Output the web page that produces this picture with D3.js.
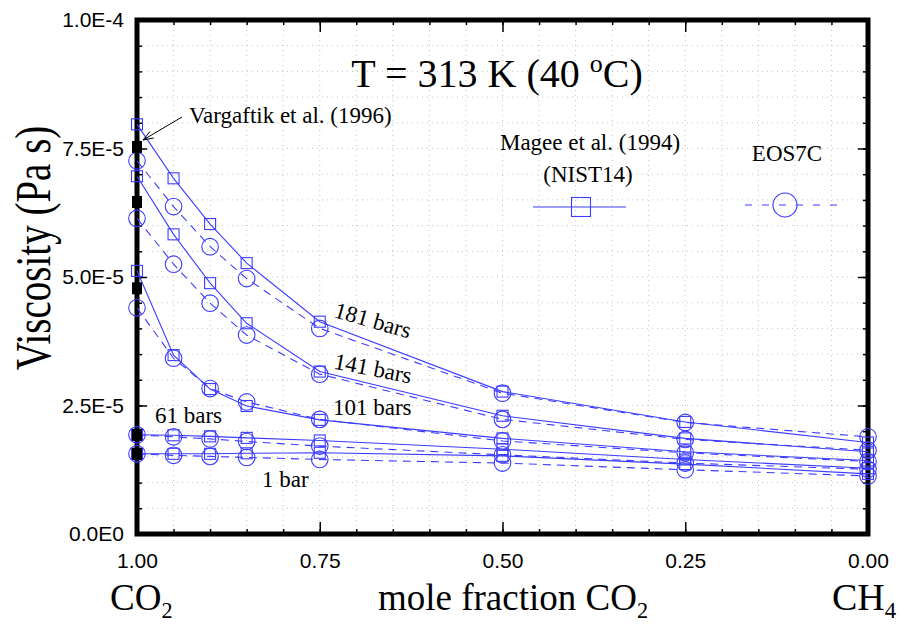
<!DOCTYPE html>
<html>
<head>
<meta charset="utf-8">
<script src="https://cdn.jsdelivr.net/npm/d3@7"></script>
<style>
  html, body { margin: 0; padding: 0; background: #fff; }
  svg { display: block; }
</style>
</head>
<body>
<svg id="chart" width="901" height="624"></svg>
<script>
// ---- data (viscosity in units of 1e-5 Pa s) ----
const moleFractionCO2 = [1.00, 0.95, 0.90, 0.85, 0.75, 0.50, 0.25, 0.00];
const pressures = ["181", "141", "101", "61", "1"];

// Magee et al. (1994) NIST14 (squares, solid lines)
const nist181 = [7.97, 6.92, 6.03, 5.27, 4.13, 2.77, 2.18, 1.78];
const nist141 = [6.96, 5.83, 4.88, 4.10, 3.16, 2.30, 1.86, 1.60];
const nist101 = [5.12, 3.48, 2.82, 2.49, 2.22, 1.86, 1.60, 1.43];
const nist61  = [1.93, 1.92, 1.90, 1.87, 1.82, 1.65, 1.45, 1.28];
const nist1   = [1.56, 1.56, 1.56, 1.57, 1.58, 1.52, 1.36, 1.17];

// EOS7C (circles, dashed lines)
const eos181 = [7.26, 6.37, 5.59, 4.97, 4.00, 2.74, 2.17, 1.89];
const eos141 = [6.14, 5.25, 4.49, 3.87, 3.11, 2.23, 1.84, 1.63];
const eos101 = [4.40, 3.42, 2.83, 2.57, 2.23, 1.81, 1.58, 1.41];
const eos61  = [1.93, 1.89, 1.85, 1.80, 1.71, 1.54, 1.38, 1.26];
const eos1   = [1.56, 1.53, 1.51, 1.49, 1.45, 1.38, 1.25, 1.13];

// Vargaftik et al. (1996), pure CO2
const vargaftikX = [1.00, 1.00, 1.00, 1.00, 1.00];
const vargaftikY = [7.53, 6.46, 4.78, 1.93, 1.56];

const yTickValues = [0, 2.5, 5, 7.5, 10];
const yTickLabels = ["0.0E0", "2.5E-5", "5.0E-5", "7.5E-5", "1.0E-4"];
const xTickValues = [1.00, 0.75, 0.50, 0.25, 0.00];
const xTickLabels = ["1.00", "0.75", "0.50", "0.25", "0.00"];

const nistSeries = [nist181, nist141, nist101, nist61, nist1];
const eosSeries  = [eos181, eos141, eos101, eos61, eos1];

// ---- layout ----
const L = 137, R = 868, T = 20, B = 534;
const BLUE = "#3c3cff";
const SERIF = "'Liberation Serif', 'Times New Roman', serif";
const SANS = "'Liberation Sans', Arial, sans-serif";

const svg = d3.select("#chart");
const x = d3.scaleLinear().domain([1, 0]).range([L, R]);
const y = d3.scaleLinear().domain([0, 10]).range([B, T]);

// grid (dotted)
const gridX = d3.range(0, 1.0001, 0.05);
const gridY = d3.range(0, 10.0001, 0.5);
const grid = svg.append("g").attr("stroke", "#c4c4c4").attr("stroke-width", 1).attr("stroke-dasharray", "1,4");
grid.selectAll("line.gx").data(gridX).join("line")
  .attr("x1", d => x(d)).attr("x2", d => x(d)).attr("y1", T).attr("y2", B);
grid.selectAll("line.gy").data(gridY).join("line")
  .attr("y1", d => y(d)).attr("y2", d => y(d)).attr("x1", L).attr("x2", R);

// axes with inward ticks
function styleAxis(g) {
  g.select(".domain").remove();
  g.selectAll(".tick line").attr("stroke", "#000").attr("stroke-width", 1.5);
}
const minorY = d3.range(0, 10.0001, 0.5);
const minorX = d3.range(0, 1.0001, 0.05);

svg.append("g").attr("transform", `translate(${L},0)`)
  .call(d3.axisLeft(y).tickValues(minorY).tickSize(-5).tickFormat(""))
  .call(styleAxis);
svg.append("g").attr("transform", `translate(${R},0)`)
  .call(d3.axisRight(y).tickValues(minorY).tickSize(-5).tickFormat(""))
  .call(styleAxis);
svg.append("g").attr("transform", `translate(0,${B})`)
  .call(d3.axisBottom(x).tickValues(minorX).tickSize(-5).tickFormat(""))
  .call(styleAxis);
svg.append("g").attr("transform", `translate(0,${T})`)
  .call(d3.axisTop(x).tickValues(minorX).tickSize(-5).tickFormat(""))
  .call(styleAxis);

const yAxisG = svg.append("g").attr("transform", `translate(${L},0)`)
  .call(d3.axisLeft(y).tickValues(yTickValues).tickSize(-10).tickPadding(13)
        .tickFormat((d, i) => yTickLabels[i]))
  .call(styleAxis);
yAxisG.selectAll("text").attr("font-family", SANS).attr("font-size", 21).attr("fill", "#000");

svg.append("g").attr("transform", `translate(${R},0)`)
  .call(d3.axisRight(y).tickValues(yTickValues).tickSize(-10).tickFormat(""))
  .call(styleAxis);

const xAxisG = svg.append("g").attr("transform", `translate(0,${B})`)
  .call(d3.axisBottom(x).tickValues(xTickValues).tickSize(-12).tickPadding(19)
        .tickFormat((d, i) => xTickLabels[i]))
  .call(styleAxis);
xAxisG.selectAll("text").attr("font-family", SANS).attr("font-size", 21).attr("fill", "#000");

svg.append("g").attr("transform", `translate(0,${T})`)
  .call(d3.axisTop(x).tickValues(xTickValues).tickSize(-12).tickFormat(""))
  .call(styleAxis);

// frame
svg.append("rect").attr("x", L).attr("y", T).attr("width", R - L).attr("height", B - T)
  .attr("fill", "none").attr("stroke", "#000").attr("stroke-width", 5);

// ---- data lines ----
const line = d3.line().x(d => x(d[0])).y(d => y(d[1]));
const dataG = svg.append("g");

nistSeries.forEach(s => {
  const pts = moleFractionCO2.map((m, i) => [m, s[i]]);
  dataG.append("path").attr("d", line(pts)).attr("fill", "none")
    .attr("stroke", BLUE).attr("stroke-width", 1.1);
});
eosSeries.forEach(s => {
  const pts = moleFractionCO2.map((m, i) => [m, s[i]]);
  dataG.append("path").attr("d", line(pts)).attr("fill", "none")
    .attr("stroke", BLUE).attr("stroke-width", 1.1).attr("stroke-dasharray", "8,6");
});
nistSeries.forEach(s => {
  dataG.selectAll(null).data(moleFractionCO2.map((m, i) => [m, s[i]])).join("rect")
    .attr("x", d => x(d[0]) - 5.5).attr("y", d => y(d[1]) - 5.5)
    .attr("width", 11).attr("height", 11)
    .attr("fill", "none").attr("stroke", BLUE).attr("stroke-width", 1.1);
});
eosSeries.forEach(s => {
  dataG.selectAll(null).data(moleFractionCO2.map((m, i) => [m, s[i]])).join("circle")
    .attr("cx", d => x(d[0])).attr("cy", d => y(d[1])).attr("r", 8.3)
    .attr("fill", "none").attr("stroke", BLUE).attr("stroke-width", 1.1);
});

// Vargaftik filled squares
dataG.selectAll(null).data(vargaftikX.map((m, i) => [m, vargaftikY[i]])).join("rect")
  .attr("x", d => x(d[0]) - 5).attr("y", d => y(d[1]) - 6)
  .attr("width", 10).attr("height", 12).attr("fill", "#000");

// ---- annotations ----
function serifText(txt, px, py, size, anchor) {
  return svg.append("text").attr("x", px).attr("y", py)
    .attr("font-family", SERIF).attr("font-size", size)
    .attr("text-anchor", anchor || "start").attr("fill", "#000").text(txt);
}

// Title
const title = svg.append("text").attr("x", 497).attr("y", 87)
  .attr("font-family", SERIF).attr("font-size", 40).attr("text-anchor", "middle").attr("fill", "#000");
title.append("tspan").text("T = 313 K (40 ");
title.append("tspan").attr("font-size", 26).attr("dy", -15).text("o");
title.append("tspan").attr("dy", 15).text("C)");

// Vargaftik label and arrow
serifText("Vargaftik et al. (1996)", 189, 123, 23);
{
  const x0 = 182, y0 = 117, x1 = 143, y1 = 140;
  svg.append("line").attr("x1", x0).attr("y1", y0).attr("x2", x1).attr("y2", y1)
    .attr("stroke", "#000").attr("stroke-width", 1);
  const ang = Math.atan2(y0 - y1, x0 - x1);
  const hl = 11, ha = 0.35;
  const p1 = [x1 + hl * Math.cos(ang + ha), y1 + hl * Math.sin(ang + ha)];
  const p2 = [x1 + hl * Math.cos(ang - ha), y1 + hl * Math.sin(ang - ha)];
  svg.append("path").attr("d", `M${p1[0]},${p1[1]}L${x1},${y1}L${p2[0]},${p2[1]}`)
    .attr("fill", "none").attr("stroke", "#000").attr("stroke-width", 1);
}

// Legend
serifText("Magee et al. (1994)", 590, 150, 23, "middle");
serifText("(NIST14)", 588, 182, 23, "middle");
svg.append("line").attr("x1", 533).attr("x2", 626).attr("y1", 207).attr("y2", 207)
  .attr("stroke", BLUE).attr("stroke-width", 1.1);
svg.append("rect").attr("x", 581 - 9.5).attr("y", 207 - 9.5).attr("width", 19).attr("height", 19)
  .attr("fill", "none").attr("stroke", BLUE).attr("stroke-width", 1.1);

serifText("EOS7C", 787, 161, 23, "middle");
svg.append("line").attr("x1", 745).attr("x2", 837).attr("y1", 205).attr("y2", 205)
  .attr("stroke", BLUE).attr("stroke-width", 1.1).attr("stroke-dasharray", "7,10");
svg.append("circle").attr("cx", 785).attr("cy", 205).attr("r", 12)
  .attr("fill", "none").attr("stroke", BLUE).attr("stroke-width", 1.1);

// Pressure labels
svg.append("text").attr("transform", "translate(373,320) rotate(16)")
  .attr("font-family", SERIF).attr("font-size", 23).attr("text-anchor", "middle")
  .attr("dy", "0.35em").text(pressures[0] + " bars");
svg.append("text").attr("transform", "translate(373,368) rotate(11)")
  .attr("font-family", SERIF).attr("font-size", 23).attr("text-anchor", "middle")
  .attr("dy", "0.35em").text(pressures[1] + " bars");
serifText(pressures[2] + " bars", 333, 415, 23);
serifText(pressures[3] + " bars", 155, 423, 23);
serifText(pressures[4] + " bar", 262, 487, 23);

// Y axis title
svg.append("text").attr("transform", "translate(50,248) rotate(-90) scale(1,1.3)")
  .attr("font-family", SERIF).attr("font-size", 39).attr("text-anchor", "middle")
  .attr("fill", "#000").text("Viscosity (Pa s)");

// Bottom labels
function chem(px, py, main, sub, size) {
  const t = svg.append("text").attr("x", px).attr("y", py)
    .attr("font-family", SERIF).attr("font-size", size).attr("fill", "#000");
  t.append("tspan").text(main);
  t.append("tspan").attr("font-size", size * 0.6).attr("dy", 8).text(sub);
  return t;
}
chem(110, 610, "CO", "2", 37);
chem(378, 610, "mole fraction CO", "2", 37);
chem(832, 610, "CH", "4", 38);
</script>
</body>
</html>
